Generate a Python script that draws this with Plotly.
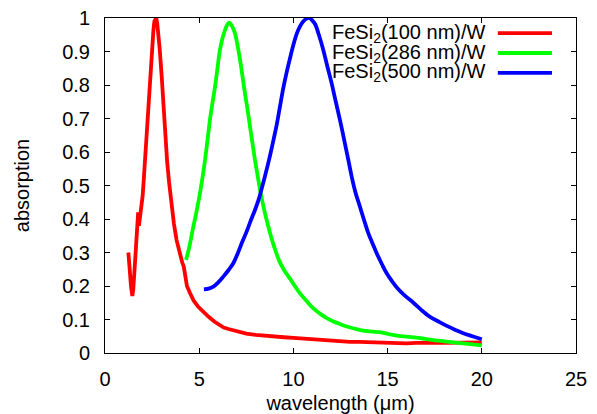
import plotly.graph_objects as go

# ---- data ----
red_x = [1.24, 1.30, 1.38, 1.45, 1.50, 1.57, 1.62, 1.68, 1.72, 1.76, 1.80, 1.85, 1.92, 2.00,
         2.06, 2.12, 2.18, 2.25, 2.32, 2.39, 2.46, 2.52, 2.57, 2.62, 2.67, 2.72, 2.77, 2.83,
         2.90, 3.01, 3.10, 3.20, 3.30, 3.40, 3.54, 3.66, 3.80, 3.95, 4.10, 4.18, 4.22, 4.26,
         4.35, 4.51, 4.70, 4.95, 5.2, 5.5, 5.8, 6.0, 6.3, 6.6, 7.0, 7.5, 8.0, 8.5, 9.0, 9.5,
         10.0, 10.5, 11.0, 11.5, 12.0, 12.5, 13.0, 13.5, 14.0, 14.5, 15.0, 15.5, 16.0, 16.5,
         17.0, 17.5, 18.0, 18.5, 19.0, 19.5, 20.0]
red_y = [0.300, 0.250, 0.200, 0.170, 0.190, 0.250, 0.290, 0.330, 0.370, 0.420, 0.380, 0.400,
         0.430, 0.470, 0.520, 0.576, 0.630, 0.700, 0.760, 0.825, 0.880, 0.930, 0.964, 0.990,
         1.000, 1.000, 0.985, 0.955, 0.910, 0.825, 0.740, 0.640, 0.570, 0.510, 0.437, 0.385,
         0.337, 0.300, 0.270, 0.258, 0.240, 0.220, 0.200, 0.179, 0.157, 0.138, 0.123, 0.108,
         0.094, 0.087, 0.076, 0.071, 0.064, 0.058, 0.054, 0.051, 0.049, 0.047, 0.045, 0.043,
         0.040, 0.038, 0.036, 0.035, 0.033, 0.033, 0.032, 0.031, 0.030, 0.030, 0.029, 0.030,
         0.029, 0.030, 0.030, 0.031, 0.031, 0.032, 0.032]

green_x = [4.30, 4.45, 4.69, 4.85, 5.04, 5.18, 5.31, 5.44, 5.57, 5.70, 5.84, 5.97, 6.10, 6.24,
           6.37, 6.50, 6.60, 6.75, 6.90, 7.03, 7.17, 7.30, 7.43, 7.57, 7.70, 7.83, 7.96, 8.10,
           8.23, 8.40, 8.58, 8.80, 9.02, 9.25, 9.50, 9.82, 10.1, 10.35, 10.7, 11.06, 11.5,
           11.94, 12.4, 12.83, 13.3, 13.71, 14.2, 14.6, 15.1, 15.57, 16.0, 16.5, 17.0, 17.5,
           18.0, 18.5, 19.0, 19.5, 20.0]
green_y = [0.278, 0.310, 0.377, 0.420, 0.477, 0.525, 0.576, 0.635, 0.696, 0.745, 0.795, 0.850,
           0.904, 0.940, 0.964, 0.981, 0.986, 0.975, 0.954, 0.920, 0.875, 0.825, 0.775, 0.725,
           0.675, 0.625, 0.576, 0.530, 0.487, 0.440, 0.397, 0.350, 0.310, 0.275, 0.248, 0.222,
           0.198, 0.178, 0.155, 0.133, 0.114, 0.099, 0.088, 0.079, 0.072, 0.067, 0.064, 0.062,
           0.056, 0.051, 0.049, 0.046, 0.042, 0.038, 0.035, 0.032, 0.029, 0.026, 0.023]

blue_x = [5.25, 5.50, 5.75, 6.00, 6.28, 6.55, 6.81, 7.05, 7.25, 7.50, 7.70, 7.96, 8.15, 8.30,
          8.50, 8.70, 8.90, 9.11, 9.30, 9.46, 9.65, 9.82, 10.0, 10.17, 10.35, 10.53, 10.7,
          10.85, 11.0, 11.15, 11.35, 11.59, 11.8, 12.03, 12.25, 12.47, 12.7, 12.91, 13.1,
          13.3, 13.53, 13.75, 13.98, 14.2, 14.42, 14.7, 14.95, 15.25, 15.5, 15.9, 16.37,
          16.8, 17.25, 17.7, 18.14, 18.6, 19.02, 19.5, 20.0]
blue_y = [0.190, 0.192, 0.198, 0.210, 0.228, 0.247, 0.268, 0.298, 0.327, 0.360, 0.390, 0.427,
          0.457, 0.487, 0.530, 0.575, 0.625, 0.680, 0.740, 0.790, 0.840, 0.880, 0.920, 0.952,
          0.975, 0.990, 0.998, 1.000, 0.993, 0.982, 0.950, 0.904, 0.856, 0.805, 0.750, 0.696,
          0.635, 0.578, 0.525, 0.478, 0.437, 0.397, 0.357, 0.327, 0.298, 0.265, 0.238, 0.213,
          0.195, 0.172, 0.150, 0.128, 0.108, 0.094, 0.081, 0.069, 0.059, 0.050, 0.041]

series_names = ["FeSi<sub>2</sub>(100 nm)/W", "FeSi<sub>2</sub>(286 nm)/W",
                "FeSi<sub>2</sub>(500 nm)/W"]
series_colors = ["#ff0000", "#00ff00", "#0000ff"]

x_ticks = [0, 5, 10, 15, 20, 25]
y_ticks = [0, 0.1, 0.2, 0.3, 0.4, 0.5, 0.6, 0.7, 0.8, 0.9, 1]

FONT = "Liberation Sans, Arial, Helvetica, sans-serif"
FS = 20
LW = 3.8

fig = go.Figure()
data = [(red_x, red_y, "linear"), (green_x, green_y, "spline"), (blue_x, blue_y, "spline")]
for (xs, ys, shp), name, col in zip(data, series_names, series_colors):
    fig.add_trace(go.Scatter(x=xs, y=ys, mode="lines", name=name,
                             line=dict(color=col, width=LW, shape=shp),
                             showlegend=False))

# gnuplot-style legend: right-aligned text followed by a line sample
row_y = [0.955, 0.8955, 0.836]
for name, col, yy in zip(series_names, series_colors, row_y):
    fig.add_annotation(x=0.8134, y=yy, xref="paper", yref="paper", text=name,
                       showarrow=False, xanchor="right", yanchor="middle",
                       font=dict(family=FONT, size=FS, color="black"))
    fig.add_shape(type="line", xref="paper", yref="paper", x0=0.834, x1=0.949,
                  y0=yy, y1=yy, line=dict(color=col, width=LW))

axis_common = dict(showline=True, linecolor="black", linewidth=1, mirror="ticks",
                   ticks="inside", ticklen=5, tickcolor="black", tickwidth=1,
                   showgrid=False, zeroline=False, automargin=False,
                   ticklabeloverflow="allow",
                   tickfont=dict(family=FONT, size=FS, color="black"))

fig.update_xaxes(range=[0, 25], tickvals=x_ticks, ticklabelstandoff=8,
                 title=dict(text="wavelength (μm)", standoff=15,
                            font=dict(family=FONT, size=FS, color="black")),
                 **axis_common)
fig.update_yaxes(range=[0, 1], tickvals=y_ticks, ticklabelstandoff=10,
                 title=dict(text="absorption", standoff=27,
                            font=dict(family=FONT, size=FS, color="black")),
                 **axis_common)

# page body adds an 8px offset, so the figure is sized/margined to compensate
fig.update_layout(width=589, height=406, plot_bgcolor="white", paper_bgcolor="white",
                  margin=dict(l=97, r=21, t=10, b=61),
                  font=dict(family=FONT, size=FS, color="black"))

fig.write_html("out.html")
